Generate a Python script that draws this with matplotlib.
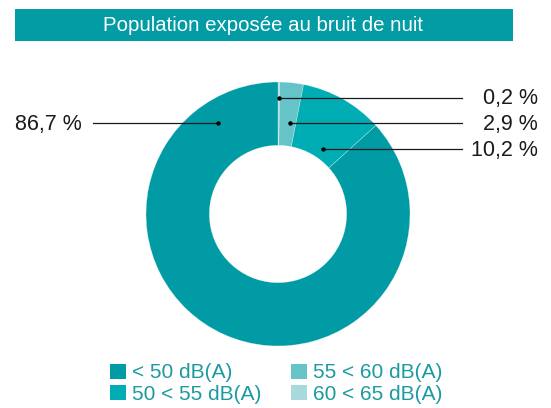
import matplotlib
matplotlib.use("Agg")
import matplotlib.pyplot as plt
from matplotlib.patches import Rectangle

plt.rcParams['font.family'] = ['Liberation Sans', 'DejaVu Sans']

# data, clockwise from the top
categories = ['60 < 65 dB(A)', '55 < 60 dB(A)', '50 < 55 dB(A)', '< 50 dB(A)']
shares = [0.2, 2.9, 10.2, 86.7]
share_labels = ['0,2 %', '2,9 %', '10,2 %', '86,7 %']
colors = ['#a8d9dd', '#66c4c9', '#00adb5', '#009ba4']
title = 'Population exposée au bruit de nuit'

W, H = 551, 408
fig = plt.figure(figsize=(W / 100, H / 100), dpi=100)
ax = fig.add_axes([0, 0, 1, 1])


def Y(y):
    # pixel row (from top) -> data y
    return H - y


# donut
cx, cy, r = 278, 214, 132
wedges, _ = ax.pie(shares, colors=colors, startangle=90, counterclock=False,
                   center=(cx, Y(cy)), radius=r, frame=True,
                   wedgeprops=dict(width=r * 0.48, edgecolor=(1, 1, 1, 0.6), linewidth=0.3))
ax.set_xlim(0, W)
ax.set_ylim(0, H)
ax.set_aspect('equal')
ax.axis('off')

# title band
ax.add_patch(Rectangle((15, Y(41)), 498, 32, color='#039ca5', lw=0))
ax.text(263, Y(25.5), title, color='white', fontsize=14.7, ha='center', va='center')

# leader lines: (dot x, y, line end x, text x, alignment)
leaders = [
    (278.5, 97.7, 462, 538, 'right'),
    (290, 123.3, 462, 538, 'right'),
    (323, 149.3, 462, 538, 'right'),
    (218, 123.3, 93, 15, 'left'),
]
for lab, (dx, dy, ex, tx, ha) in zip(share_labels, leaders):
    ax.plot([dx, ex], [Y(dy), Y(dy)], color='#1a1a1a', lw=0.9)
    ax.plot([dx], [Y(dy)], 'o', color='black', ms=2.2)
    ax.text(tx, Y(dy + 1), lab, fontsize=15.5, ha=ha, va='center', color='#1a1a1a')

# legend
order = [3, 2, 1, 0]
leg = fig.legend([wedges[i] for i in order], [categories[i] for i in order],
                 ncol=2, loc='upper left', bbox_to_anchor=(110 / W, 1 - 363.5 / H),
                 frameon=False, fontsize=15, handlelength=0.75, handleheight=0.75,
                 handletextpad=0.3, columnspacing=1.45, labelspacing=0.12,
                 borderpad=0, borderaxespad=0, labelcolor='#1b9aa1')
for h in leg.legend_handles:
    h.set_edgecolor('none')

fig.savefig('out.png', dpi=100)
